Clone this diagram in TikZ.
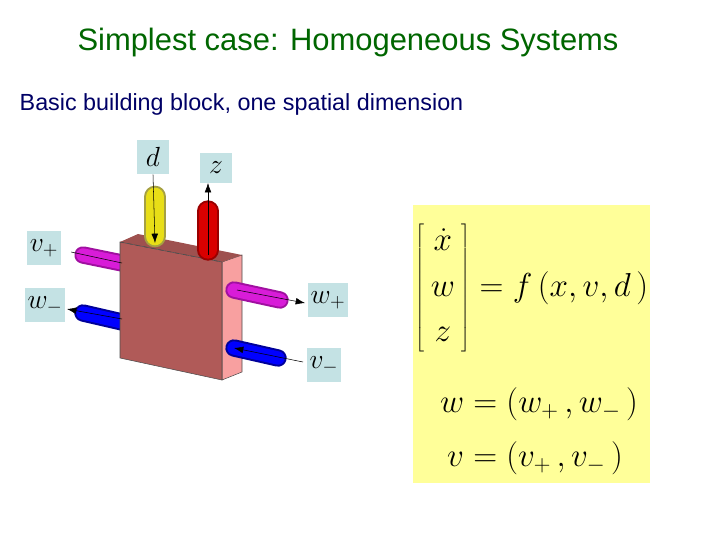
\documentclass[tikz,border=0pt]{standalone}
\usepackage{fontspec}
\setmainfont{Liberation Sans}
\usetikzlibrary{arrows.meta}
\definecolor{lab}{HTML}{C4E2E4}
\definecolor{front}{HTML}{B05A58}
\definecolor{side}{HTML}{F8A0A0}
\definecolor{panel}{HTML}{FFFF99}
\definecolor{mag}{HTML}{D81CD8}
\definecolor{magd}{HTML}{A010A0}
\tikzset{
 lbl/.style={fill=lab,inner sep=2pt,minimum width=24pt,minimum height=26pt,font=\fontsize{22}{24}\selectfont},
 cyl/.style={line cap=round,line width=#1},
 arr/.style={-{Latex[length=7pt,width=5pt]},thin},
}
\begin{document}
\begin{tikzpicture}[x=0.75pt,y=-0.75pt]
\useasboundingbox (0,0) rectangle (720,540);
\node[text=green!40!black,font=\fontsize{23.2}{26}\selectfont] (title) at (348,42) {Simplest case: Homogeneous Systems};
\node[anchor=west,text=blue!40!black,font=\fontsize{17.5}{20}\selectfont] (sub) at (15,104) {Basic building block, one spatial dimension};
% left cylinders (behind)
\draw[cyl=13pt,magd] (83,255) -- (122,263);
\draw[cyl=10pt,mag] (83,255) -- (122,263);
\draw[cyl=13pt,blue!60!black] (83,313) -- (122,322);
\draw[cyl=10pt,blue] (83,313) -- (122,322);
% block
\draw[black!70,fill=side] (222,262) -- (242,255) -- (242,372) -- (222,380) -- cycle;
\fill[front!90!black] (120,242) -- (138,234) -- (242,255) -- (222,262) -- cycle;
\draw[black!70,fill=front] (120,242) -- (222,262) -- (222,380) -- (120,358) -- cycle;
\draw[black!70,dashed,thin] (120,242) -- (222,262);
% top cylinders
\draw[cyl=17pt,yellow!60!black] (155,197) -- (155,236);
\draw[cyl=14pt,yellow!90!black] (155,197) -- (155,236);
\draw[cyl=16pt,red!60!black] (208,211) -- (208,250);
\draw[cyl=13pt,red!85!black] (208,211) -- (208,250);
% right cylinders
\draw[cyl=13pt,magd] (234,290) -- (280,300);
\draw[cyl=10pt,mag] (234,290) -- (280,300);
\draw[cyl=13pt,blue!60!black] (234,348) -- (278,358);
\draw[cyl=10pt,blue] (234,348) -- (278,358);
% labels
\node[lbl] (d) at (153,157) {$d$};
\node[lbl,minimum height=23pt] (z) at (216,168) {$z$};
\node[lbl] (vp) at (44,248) {$v_{+}$};
\node[lbl] (wm) at (45,305) {$w_{-}$};
\node[lbl] (wp) at (328,300) {$w_{+}$};
\node[lbl] (vm) at (324,365) {$v_{-}$};
% arrows
\coordinate (dEnd) at (155,243);
\coordinate (zStart) at (208,255);
\coordinate (vpEnd) at (122,263);
\coordinate (wmStart) at (122,319);
\coordinate (wpStart) at (237,290);
\coordinate (vmEnd) at (234,348);
\draw[arr] (d.south) -- (dEnd);
\draw[arr] (zStart) -- (208,183);
\draw[thin] (vp.east) ++(10,4) coordinate (vpS) (vpS) -- (vpEnd);
\draw[arr] (wmStart) -- (67,309);
\draw[arr] (wpStart) -- (305,303);
\draw[arr] (303,362) -- (vmEnd);
% panel
\fill[panel] (413,205) rectangle (650,483);
\node[anchor=west,font=\fontsize{27}{30}\selectfont,inner sep=0pt] (eq1) at (415,288)
 {$\left[\begin{array}{c}\dot{x}\\[4pt] w\\[4pt] z\end{array}\right]=f\,(x,v,d\,)$};
\node[font=\fontsize{24}{28}\selectfont] (eq2) at (539,404) {$w=(w_{+}\,,w_{-}\,)$};
\node[font=\fontsize{24}{28}\selectfont] (eq3) at (535,458) {$v=(v_{+}\,,v_{-}\,)$};
\end{tikzpicture}
\end{document}
